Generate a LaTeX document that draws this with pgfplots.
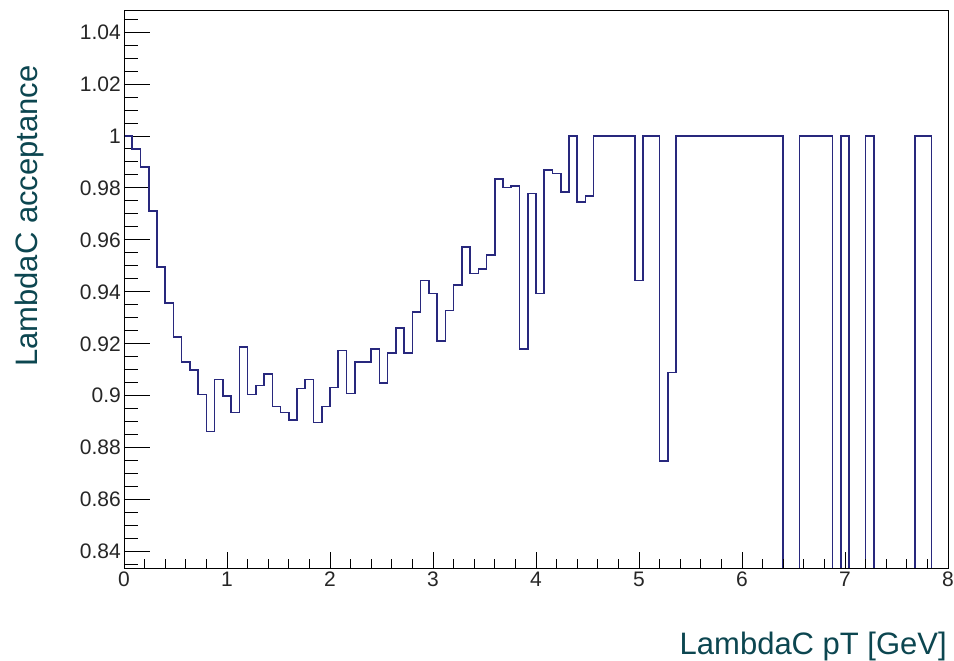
\documentclass[border=0pt]{standalone}
\usepackage{fontspec}
\setmainfont{Liberation Sans}
\usepackage{pgfplots}
\usepackage{pgfplotstable}
\pgfplotsset{compat=1.18}
\definecolor{histcol}{RGB}{40,40,125}
\definecolor{labcol}{RGB}{12,70,80}

\pgfplotstableread{
x y
0.00 1.0
0.08 0.995
0.16 0.988
0.24 0.971
0.32 0.9495
0.40 0.9356
0.48 0.9227
0.56 0.9131
0.64 0.9098
0.72 0.9004
0.80 0.8862
0.88 0.9062
0.96 0.8999
1.04 0.8936
1.12 0.9187
1.20 0.9005
1.28 0.9039
1.36 0.9084
1.44 0.8959
1.52 0.8936
1.60 0.8907
1.68 0.9028
1.76 0.9062
1.84 0.8897
1.92 0.8959
2.00 0.9032
2.08 0.9174
2.16 0.9009
2.24 0.9130
2.32 0.9130
2.40 0.9181
2.48 0.9049
2.56 0.9165
2.64 0.9261
2.72 0.9164
2.80 0.9323
2.88 0.9443
2.96 0.9393
3.04 0.9210
3.12 0.9328
3.20 0.9427
3.28 0.9573
3.36 0.9471
3.44 0.9489
3.52 0.9541
3.60 0.9835
3.68 0.9802
3.76 0.9807
3.84 0.9180
3.92 0.9779
4.00 0.9393
4.08 0.9869
4.16 0.9856
4.24 0.9785
4.32 1.0
4.40 0.9746
4.48 0.9768
4.56 1.0
4.64 1.0
4.72 1.0
4.80 1.0
4.88 1.0
4.96 0.9443
5.04 1.0
5.12 1.0
5.20 0.8749
5.28 0.9089
5.36 1.0
5.44 1.0
5.52 1.0
5.60 1.0
5.68 1.0
5.76 1.0
5.84 1.0
5.92 1.0
6.00 1.0
6.08 1.0
6.16 1.0
6.24 1.0
6.32 1.0
6.40 0
6.48 0
6.56 1.0
6.64 1.0
6.72 1.0
6.80 1.0
6.88 0
6.96 1.0
7.04 0
7.12 0
7.20 1.0
7.28 0
7.36 0
7.44 0
7.52 0
7.60 0
7.68 1.0
7.76 1.0
7.84 0
7.92 0
8.00 0
}\histdata

\pgfplotsset{
  hbase/.style={
    at={(124pt,93pt)}, anchor=south west,
    scale only axis, width=824pt, height=558pt,
    xmin=0, xmax=8, ymin=0.8337, ymax=1.0485,
    tick align=inside, xtick pos=left, ytick pos=left,
    axis line style={draw=black, line width=0.9pt},
    every tick/.style={black, line width=0.9pt},
    ticklabel style={font=\fontsize{21}{24}\selectfont, text=black!85},
  }
}

\begin{document}
\begin{tikzpicture}[x=1pt,y=1pt]
\path[use as bounding box] (0,0) rectangle (954,661);

\begin{axis}[hbase,
  xtick=\empty,
  ytick={0.84,0.86,0.88,0.9,0.92,0.94,0.96,0.98,1,1.02,1.04},
  yticklabels={0.84,0.86,0.88,0.9,0.92,0.94,0.96,0.98,1,1.02,1.04},
  minor ytick={0.835,0.845,0.85,0.855,0.865,0.87,0.875,0.885,0.89,0.895,0.905,0.91,0.915,0.925,0.93,0.935,0.945,0.95,0.955,0.965,0.97,0.975,0.985,0.99,0.995,1.005,1.01,1.015,1.025,1.03,1.035,1.045},
  major tick length=25.7pt, minor tick length=14pt,
  yticklabel style={inner sep=0pt, xshift=-3pt},
]
\addplot[const plot mark left, no markers, color=histcol, line width=1.6pt, line join=miter] table[x=x,y=y] {\histdata};
\end{axis}

\begin{axis}[hbase,
  ytick=\empty,
  xtick={0,1,2,3,4,5,6,7,8},
  xticklabels={0,1,2,3,4,5,6,7,8},
  minor xtick={0.2,0.4,0.6,0.8,1.2,1.4,1.6,1.8,2.2,2.4,2.6,2.8,3.2,3.4,3.6,3.8,4.2,4.4,4.6,4.8,5.2,5.4,5.6,5.8,6.2,6.4,6.6,6.8,7.2,7.4,7.6,7.8},
  major tick length=16pt, minor tick length=8.5pt,
  xticklabel style={inner sep=0pt, yshift=-4pt},
]
\end{axis}

\node[font=\fontsize{31}{36}\selectfont, text=labcol, anchor=base east, inner sep=0pt] at (947,6) {LambdaC pT [GeV]};
\node[font=\fontsize{31}{36}\selectfont, text=labcol, anchor=base east, inner sep=0pt, rotate=90] at (37,596) {LambdaC acceptance};
\end{tikzpicture}
\end{document}
